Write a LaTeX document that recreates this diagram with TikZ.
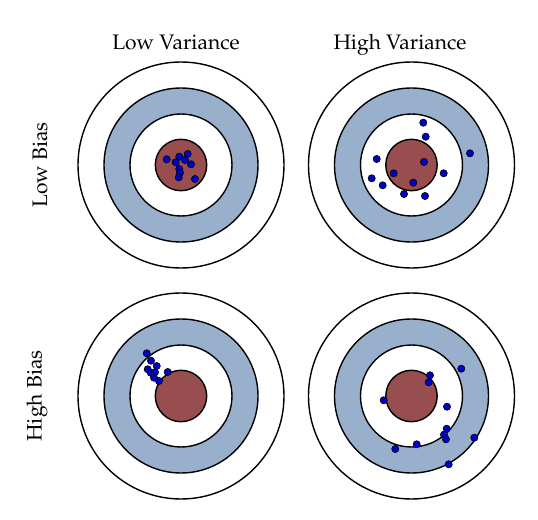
\documentclass[tikz,border=0pt]{standalone}
\usepackage[T1]{fontenc}
\usepackage{mathpazo}
\definecolor{ringblue}{RGB}{152,176,204}
\definecolor{bullred}{RGB}{152,78,78}
\definecolor{dotblue}{RGB}{0,0,200}
\tikzset{
  ring/.style={line width=0.7pt},
  dot/.style={fill=dotblue,draw=black,line width=0.3pt},
  lbl/.style={font=\fontsize{10.5}{12}\selectfont,anchor=base,inner sep=0pt}
}
\begin{document}
\begin{tikzpicture}[x=0.5pt,y=-0.5pt]
\useasboundingbox (0,0) rectangle (538,520);
% the four targets
\foreach \cx/\cy in {181/165,411.5/165,181/396,411.5/396}{
  \draw[ring,fill=white](\cx,\cy) circle (103);
  \draw[ring,fill=ringblue](\cx,\cy) circle (77);
  \draw[ring,fill=white](\cx,\cy) circle (51);
  \draw[ring,fill=bullred](\cx,\cy) circle (25.7);
}
% low bias, low variance
\foreach \x/\y in {166.7/159.3,175.7/162.3,179.3/156.7,187.7/154,185/160,191/164.3,179.3/169,180/172.7,178.7/177.3,195/179}
  \draw[dot](\x,\y) circle (3.6);
% low bias, high variance
\foreach \x/\y in {423.3/122.7,425.7/136.7,470/153.3,376.7/159,424/162,393.7/173.3,443.7/173.3,371.7/178.3,413.3/182.7,382.7/185.3,404/194,425/196}
  \draw[dot](\x,\y) circle (3.6);
% high bias, low variance
\foreach \x/\y in {146.7/353.3,151/360.7,156.7/366,167.7/372,147.7/369.3,150.7/372.7,155/372.3,154/377.7,159/381}
  \draw[dot](\x,\y) circle (3.6);
% high bias, high variance
\foreach \x/\y in {430/375.3,428.7/382.3,461.3/368.7,383.7/400.3,447/406.7,446.7/428.7,444/434.7,446/439.3,474.3/437.7,416.7/444.3,395.3/449,448.7/464.3}
  \draw[dot](\x,\y) circle (3.6);
% labels
\node[lbl] (lowvar) at (176,49) {Low Variance};
\node[lbl] (highvar) at (400,49) {High Variance};
\node[lbl,rotate=90] (lowbias) at (47,165) {Low Bias};
\node[lbl,rotate=90] (highbias) at (41.5,396) {High Bias};
\end{tikzpicture}
\end{document}
